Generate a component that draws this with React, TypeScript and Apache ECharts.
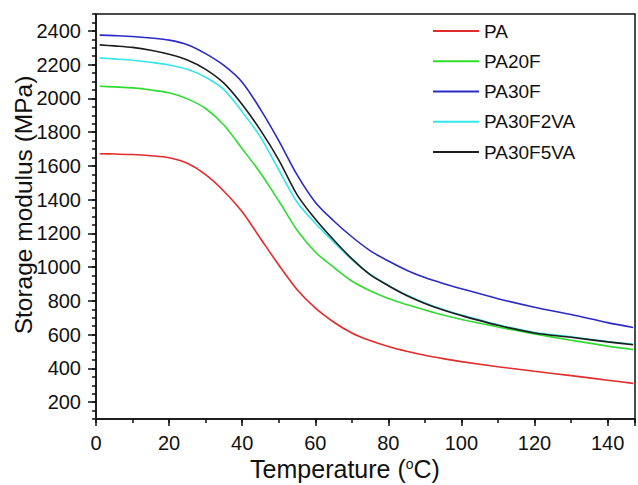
import React, { useEffect, useRef } from "react";
import * as echarts from "echarts";

const temps = [1, 5, 10, 15, 20, 25, 30, 35, 40, 45, 50, 55, 60, 65, 70, 75, 80, 85, 90, 95, 100, 110, 120, 130, 140, 147];

const PA = [1672, 1670, 1667, 1660, 1648, 1615, 1548, 1450, 1328, 1170, 1013, 868, 758, 675, 610, 565, 530, 502, 478, 458, 440, 410, 383, 357, 330, 311];
const PA20F = [2072, 2068, 2062, 2050, 2033, 1997, 1940, 1842, 1702, 1558, 1393, 1220, 1090, 1000, 918, 860, 814, 778, 746, 716, 690, 645, 604, 567, 532, 512];
const PA30F = [2375, 2372, 2367, 2358, 2345, 2318, 2265, 2195, 2096, 1935, 1750, 1548, 1385, 1275, 1180, 1098, 1036, 982, 938, 903, 872, 813, 762, 719, 671, 642];
const PA30F2VA = [2240, 2234, 2226, 2214, 2198, 2172, 2125, 2052, 1920, 1770, 1577, 1386, 1260, 1150, 1045, 958, 892, 835, 788, 749, 716, 658, 613, 587, 559, 543];
const PA30F5VA = [2317, 2311, 2302, 2285, 2261, 2227, 2172, 2090, 1964, 1812, 1636, 1430, 1285, 1162, 1050, 955, 890, 832, 785, 746, 713, 655, 610, 584, 557, 540];

const seriesNames = ["PA", "PA20F", "PA30F", "PA30F2VA", "PA30F5VA"];
const seriesValues = [PA, PA20F, PA30F, PA30F2VA, PA30F5VA];
const seriesColors = ["#e32b2b", "#2fdc2f", "#2a2ac8", "#35e6ea", "#1e1e1e"];

// y tick positions (every 50 from axis min to max); labels only on multiples of 200
const yTickValues = Array.from({ length: 49 }, (_, i) => String(100 + i * 50));

const FONT = "'Liberation Sans', Arial, sans-serif";

export default function App() {
  const ref = useRef<HTMLDivElement>(null);
  useEffect(() => {
    if (!ref.current) return;
    const chart = echarts.init(ref.current, undefined, { renderer: "svg" });
    const isMajorY = (_i: number, v: string) => Number(v) % 200 === 0;
    chart.setOption({
      animation: false,
      backgroundColor: "#ffffff",
      textStyle: { fontFamily: FONT },
      grid: {
        left: 96,
        right: 0,
        top: 14,
        bottom: 66,
        show: true,
        borderColor: "#111",
        borderWidth: 1.5,
      },
      legend: {
        data: seriesNames,
        orient: "vertical",
        left: 433,
        top: 21,
        padding: 0,
        icon: "rect",
        itemWidth: 46,
        itemHeight: 2,
        itemGap: 10.25,
        textStyle: { fontSize: 19, color: "#111", fontFamily: FONT, lineHeight: 20 },
      },
      xAxis: [
        {
          type: "value",
          min: 0,
          max: 147.5,
          interval: 10,
          position: "bottom",
          axisLine: { show: true, lineStyle: { color: "#111", width: 1.5 } },
          axisTick: { show: true, length: 4, lineStyle: { color: "#111", width: 1.5 } },
          axisLabel: { show: false },
          splitLine: { show: false },
        },
        {
          type: "value",
          min: 0,
          max: 147.5,
          interval: 20,
          position: "bottom",
          axisLine: { show: false },
          axisTick: { show: true, length: 7, lineStyle: { color: "#111", width: 1.5 } },
          axisLabel: {
            show: true,
            margin: 14,
            fontSize: 20,
            color: "#111",
            fontFamily: FONT,
            formatter: (v: number) => (v % 20 === 0 ? String(v) : ""),
          },
          splitLine: { show: false },
        },
      ],
      yAxis: [
        {
          type: "value",
          min: 100,
          max: 2500,
          interval: 50,
          position: "left",
          axisLine: { show: true, lineStyle: { color: "#111", width: 1.5 } },
          axisTick: { show: true, length: 4, lineStyle: { color: "#111", width: 1.5 } },
          axisLabel: { show: false },
          splitLine: { show: false },
        },
        {
          type: "category",
          data: yTickValues,
          boundaryGap: false,
          position: "left",
          axisLine: { show: false },
          axisTick: { show: true, length: 8, interval: isMajorY, lineStyle: { color: "#111", width: 1.5 } },
          axisLabel: {
            show: true,
            interval: isMajorY,
            margin: 15,
            fontSize: 20,
            color: "#111",
            fontFamily: FONT,
          },
          splitLine: { show: false },
        },
      ],
      graphic: [
        {
          type: "text",
          x: 23,
          y: 205,
          rotation: Math.PI / 2,
          style: {
            text: "Storage modulus (MPa)",
            fontSize: 24.5,
            fontFamily: FONT,
            fill: "#111",
            align: "center",
            verticalAlign: "middle",
          },
        },
        {
          type: "text",
          x: 345,
          y: 469,
          style: {
            text: "{a|Temperature (}{s|o}{a|C)}",
            fontSize: 25,
            fontFamily: FONT,
            fill: "#111",
            align: "center",
            verticalAlign: "middle",
            rich: {
              a: { fontSize: 25, fontFamily: FONT, fill: "#111" },
              s: { fontSize: 14, fontFamily: FONT, fill: "#111", verticalAlign: "top", padding: [0, 0, 10, 0] },
            },
          },
        },
      ],
      series: seriesNames.map((name, k) => ({
        name,
        type: "line",
        xAxisIndex: 0,
        yAxisIndex: 0,
        smooth: 0.3,
        showSymbol: false,
        symbol: "none",
        color: seriesColors[k],
        lineStyle: { color: seriesColors[k], width: 1.6 },
        data: temps.map((t, i) => [t, seriesValues[k][i]]),
      })),
    });
    return () => chart.dispose();
  }, []);
  return (
    <div
      ref={ref}
      style={{ position: "absolute", left: 0, top: 0, width: 638, height: 485 }}
    />
  );
}
